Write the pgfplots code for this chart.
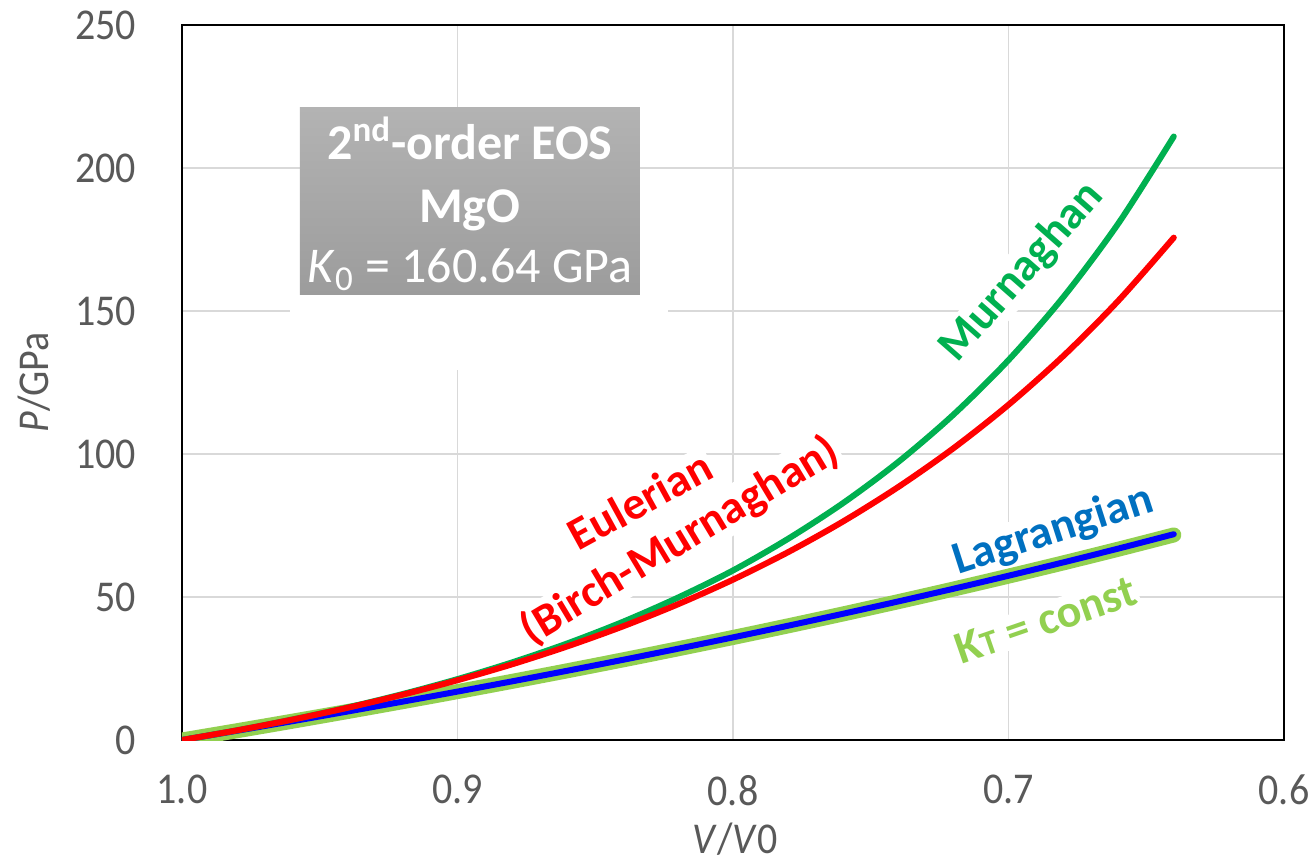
\documentclass[border=0pt]{standalone}
\usepackage{pgfplots}
\pgfplotsset{compat=1.18}
\usetikzlibrary{calc}
\usepackage{fontspec}
\setmainfont{Carlito}
\definecolor{gridgray}{HTML}{D9D9D9}
\definecolor{tickgray}{HTML}{595959}
\definecolor{murn}{HTML}{00B050}
\definecolor{euler}{HTML}{FF0000}
\definecolor{lagr}{HTML}{0000FF}
\definecolor{lagrtxt}{HTML}{0070C0}
\definecolor{ktc}{HTML}{92D050}
\definecolor{boxtop}{HTML}{B3B3B3}
\definecolor{boxbot}{HTML}{9C9C9C}

\pgfplotstableread{
x P
1.00 0
0.98 3.387
0.96 7.153
0.94 11.350
0.92 16.040
0.90 21.289
0.88 27.185
0.86 33.815
0.84 41.300
0.82 49.775
0.80 59.282
0.78 70.348
0.76 82.866
0.74 97.219
0.72 113.739
0.70 132.826
0.68 154.972
0.66 180.789
0.64 211.018
}\murnaghan

\pgfplotstableread{
x P
1.00 0
0.98 3.379
0.96 7.116
0.94 11.250
0.92 15.827
0.90 20.900
0.88 26.524
0.86 32.776
0.84 39.717
0.82 47.444
0.80 56.059
0.78 65.679
0.76 76.429
0.74 88.476
0.72 101.996
0.70 117.211
0.68 134.357
0.66 153.726
0.64 175.648
}\eulerian

\pgfplotstableread{
x P
1.00 0
0.98 3.245
0.96 6.558
0.94 9.940
0.92 13.394
0.90 16.925
0.88 20.535
0.86 24.228
0.84 28.008
0.82 31.879
0.80 35.846
0.78 39.913
0.76 44.086
0.74 48.370
0.72 52.771
0.70 57.296
0.68 61.953
0.66 66.748
0.64 71.692
}\ktconst

\pgfplotstableread{
x P
1.00 0
0.98 3.246
0.96 6.558
0.94 9.940
0.92 13.396
0.90 16.929
0.88 20.541
0.86 24.238
0.84 28.024
0.82 31.902
0.80 35.879
0.78 39.958
0.76 44.147
0.74 48.451
0.72 52.876
0.70 57.431
0.68 62.124
0.66 66.962
0.64 71.956
}\lagrangian

\begin{document}
\begin{tikzpicture}
\begin{axis}[
  scale only axis,
  width=551pt, height=357.5pt,
  x dir=reverse,
  xmin=0.6, xmax=1.0, ymin=0, ymax=250,
  xtick={0.6,0.7,0.8,0.9,1.0},
  xticklabels={\scalebox{1}[1.1]{0.6},\scalebox{1}[1.1]{0.7},\scalebox{1}[1.1]{0.8},\scalebox{1}[1.1]{0.9},\scalebox{1}[1.1]{1.0}},
  ytick={0,50,100,150,200,250},
  yticklabel={\scalebox{1}[1.1]{\pgfmathprintnumber{\tick}}},
  /pgf/number format/assume math mode=true,
  major tick length=0pt,
  xmajorgrids, ymajorgrids,
  grid style={gridgray, line width=0.8pt},
  axis line style={black, line width=1.3pt},
  xticklabel style={font=\fontsize{20}{20}\selectfont, text=tickgray, anchor=north, yshift=-14pt},
  yticklabel style={font=\fontsize{20}{20}\selectfont, text=tickgray, anchor=east, xshift=-19.5pt},
  xlabel={\scalebox{1}[1.1]{\textit{V}/\textit{V}0}},
  ylabel={\scalebox{1}[1.1]{\textit{P}/GPa}},
  xlabel style={font=\fontsize{20}{20}\selectfont, text=tickgray, at={(axis description cs:0.502,0)}, anchor=base, yshift=-56.5pt},
  ylabel style={font=\fontsize{20}{20}\selectfont, text=tickgray, at={(axis description cs:0,0.5)}, anchor=center, yshift=74pt},
]
% white patch and grey box
\fill[white] (axis cs:0.9608,129.4) rectangle (axis cs:0.8236,155.6);
\shade[top color=boxtop, bottom color=boxbot] (axis cs:0.9572,155.6) rectangle (axis cs:0.8338,221.3);
\node[anchor=base, text=white, font=\bfseries\fontsize{25}{25}\selectfont] at (axis cs:0.8955,202.8) {2\textsuperscript{nd}-order EOS};
\node[anchor=base, text=white, font=\bfseries\fontsize{25}{25}\selectfont] at (axis cs:0.8955,181.1) {MgO};
\node[anchor=base, text=white, font=\fontsize{25}{25}\selectfont] at (axis cs:0.8955,159.8) {\textit{K}\textsubscript{0} = 160.64 GPa};

% curve labels (white backgrounds hide grid lines)
\node[text=murn, fill=white, inner sep=1pt, rotate=48.7, font=\bfseries\fontsize{23}{23}\selectfont] at (axis cs:0.6951,163.6) {Murnaghan};
\node[text=euler, fill=white, inner sep=1pt, rotate=28.7, font=\bfseries\fontsize{23}{23}\selectfont] at (axis cs:0.8338,83.9) {Eulerian};
\node[text=euler, fill=white, inner sep=1pt, rotate=31, font=\bfseries\fontsize{23}{23}\selectfont] at (axis cs:0.8192,69.6) {(Birch-Murnaghan)};
\node[text=lagrtxt, fill=white, inner sep=1pt, rotate=17.8, font=\bfseries\fontsize{23}{23}\selectfont] at (axis cs:0.6838,73.1) {Lagrangian};
\node[text=ktc, fill=white, inner sep=1pt, rotate=19, font=\bfseries\fontsize{23}{23}\selectfont] at (axis cs:0.6864,42.0) {K\scalebox{0.75}{T} = const};

\addplot[ktc, line width=7.5pt, smooth, line cap=round] table[x=x,y=P] {\ktconst};
\addplot[lagr, line width=3pt, smooth, line cap=round] table[x=x,y=P] {\lagrangian};
\addplot[murn, line width=3pt, smooth, line cap=round] table[x=x,y=P] {\murnaghan};
\addplot[euler, line width=3pt, smooth, line cap=round] table[x=x,y=P] {\eulerian};
\end{axis}
\pgfresetboundingbox
\useasboundingbox ($(current axis.south west)+(-91pt,-61pt)$) rectangle ($(current axis.north east)+(13.5pt,12.5pt)$);
\end{tikzpicture}
\end{document}
